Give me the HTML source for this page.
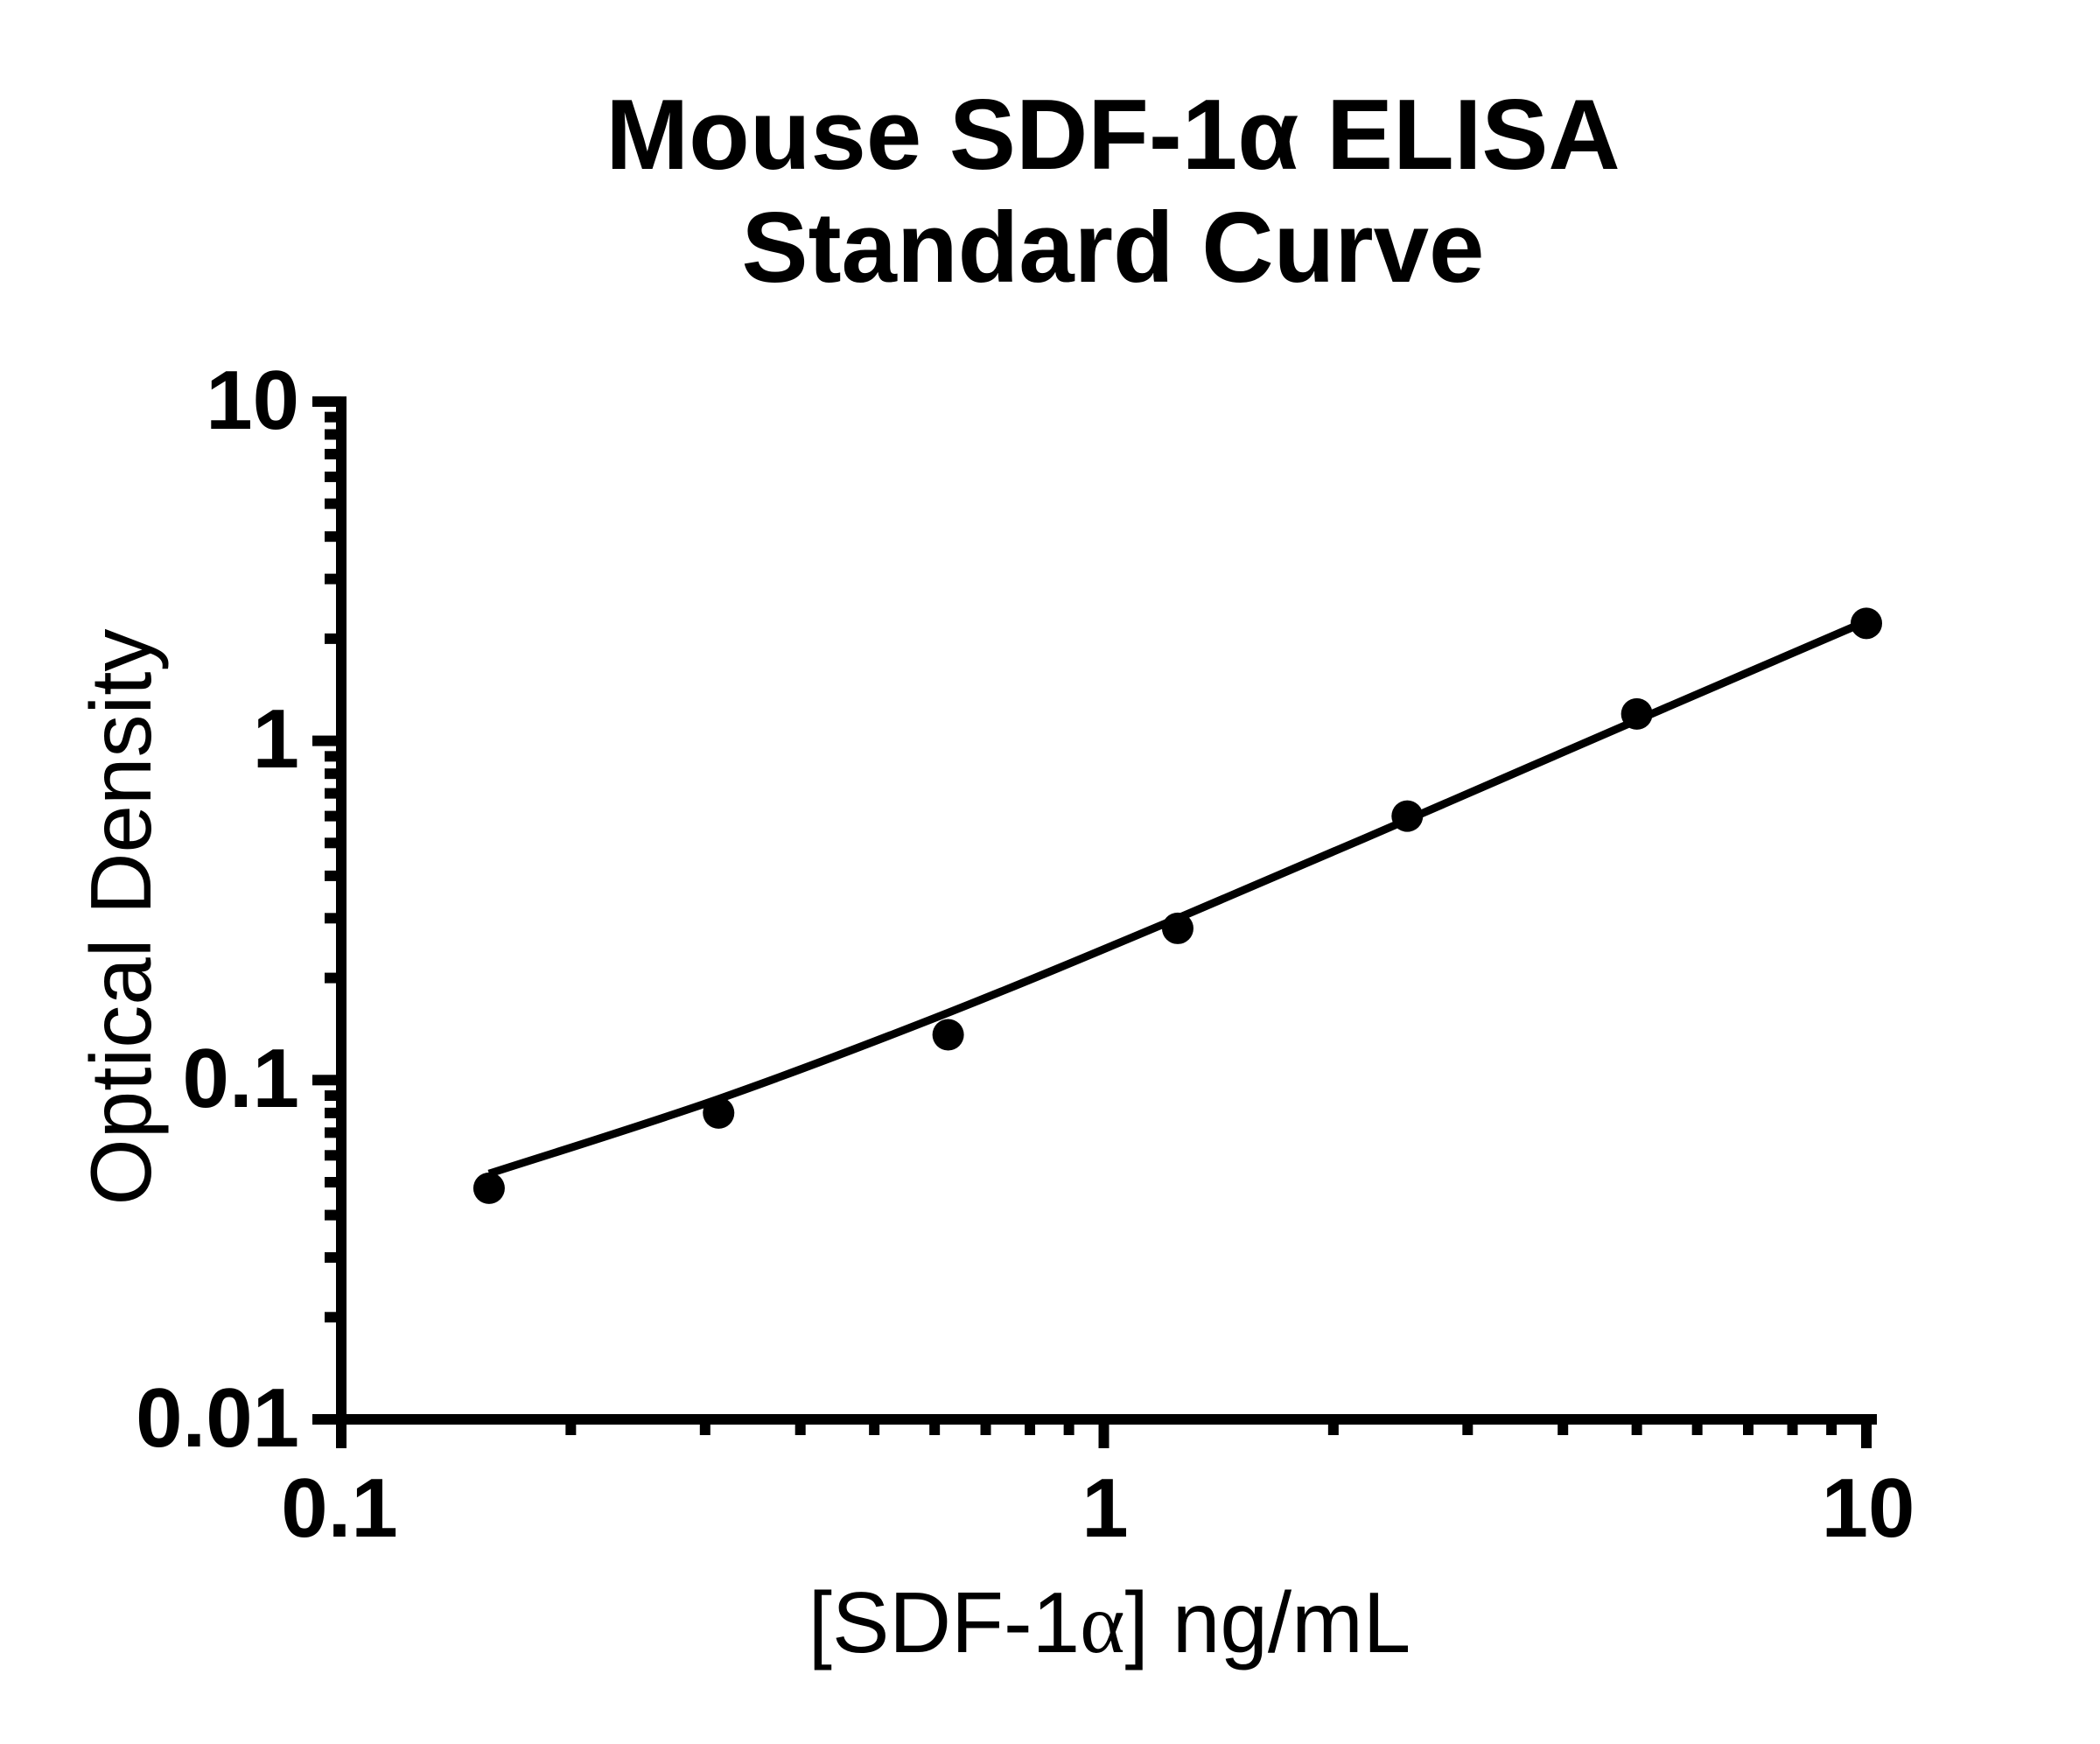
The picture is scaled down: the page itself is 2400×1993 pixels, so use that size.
<!DOCTYPE html>
<html><head><meta charset="utf-8"><style>
html,body{margin:0;padding:0;background:#fff;}
svg{display:block;}
</style></head><body>
<svg id="s" width="2400" height="1993" viewBox="0 0 2400 1993" xmlns="http://www.w3.org/2000/svg">
<rect width="2400" height="1993" fill="#fff"/>
<g font-family="Liberation Sans, Arial, sans-serif" fill="#000">
<text x="1272" y="193" font-size="114" font-weight="bold" text-anchor="middle">Mouse SDF-1α ELISA</text>
<text x="1272" y="322" font-size="114" font-weight="bold" text-anchor="middle">Standard Curve</text>
<text x="1268" y="1888" font-size="98" text-anchor="middle">[SDF-1<tspan font-family="Liberation Serif, serif">α</tspan>] ng/mL</text>
<text transform="translate(172,1048) rotate(-90)" font-size="98" text-anchor="middle">Optical Density</text>
<g font-size="96" font-weight="bold">
<text x="342" y="490" text-anchor="end">10</text>
<text x="342" y="877" text-anchor="end">1</text>
<text x="342" y="1265" text-anchor="end">0.1</text>
<text x="342" y="1653" text-anchor="end">0.01</text>
<text x="388" y="1756" text-anchor="middle">0.1</text>
<text x="1263" y="1756" text-anchor="middle">1</text>
<text x="2135" y="1756" text-anchor="middle">10</text>
</g>
</g>
<g id="ax"></g>
</svg>
<script>
var ns="http://www.w3.org/2000/svg",g=document.getElementById("ax");
function X(v){return 390+871.5*(Math.log10(v)+1);}
function Y(v){return 1622-387.7*(Math.log10(v)+2);}
function r(x,y,w,h){var e=document.createElementNS(ns,"rect");e.setAttribute("x",x);e.setAttribute("y",y);e.setAttribute("width",w);e.setAttribute("height",h);g.appendChild(e);}
r(384,453,12,1202);
r(357,1616,1788,12);
for(var d=-2;d<=1;d++){for(var k=1;k<=9;k++){if(d==1&&k>1)break;var y=Y(k*Math.pow(10,d));if(k==1)r(357,y-6,33,12);else r(371,y-6,19,12);}}
for(var d=-1;d<=1;d++){for(var k=1;k<=9;k++){if(d==1&&k>1)break;var x=X(k*Math.pow(10,d));if(k==1)r(x-6,1622,12,33);else r(x-6,1622,12,18);}}
var cx=[0.15625,0.3125,0.625,1.25,2.5,5,10],cy=[0.053,0.088,0.158,0.30,0.585,1.15,2.25];
var P=cx.map(function(v,i){return [X(v),Y(cy[i])];});
var d="M"+P[0][0]+","+P[0][1];
for(var i=0;i<P.length-1;i++){var p0=P[Math.max(i-1,0)],p1=P[i],p2=P[i+1],p3=P[Math.min(i+2,P.length-1)];
d+=" C"+(p1[0]+(p2[0]-p0[0])/6)+","+(p1[1]+(p2[1]-p0[1])/6)+" "+(p2[0]-(p3[0]-p1[0])/6)+","+(p2[1]-(p3[1]-p1[1])/6)+" "+p2[0]+","+p2[1];}
var pa=document.createElementNS(ns,"path");pa.setAttribute("d",d);pa.setAttribute("fill","none");pa.setAttribute("stroke","#000");pa.setAttribute("stroke-width","9");g.appendChild(pa);
var py=[0.048,0.080,0.136,0.28,0.60,1.2,2.22];
cx.forEach(function(v,i){var c=document.createElementNS(ns,"circle");c.setAttribute("cx",X(v));c.setAttribute("cy",Y(py[i]));c.setAttribute("r",18);g.appendChild(c);});
</script>
</body></html>
